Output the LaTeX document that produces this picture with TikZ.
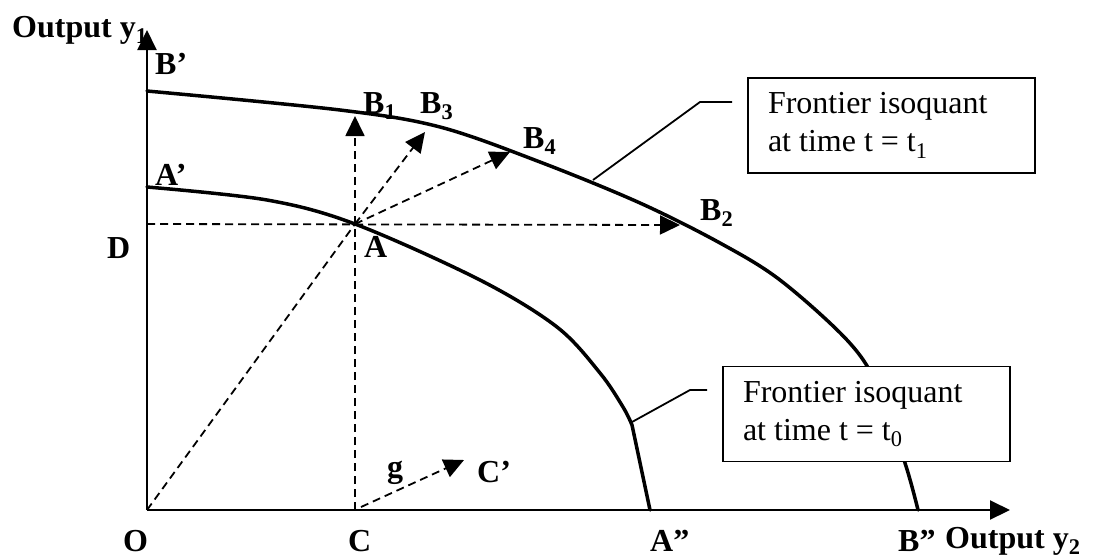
\documentclass[tikz,border=0pt]{standalone}
\usepackage{fontspec}
\setmainfont{Liberation Serif}
\usetikzlibrary{arrows.meta,calc}

\begin{document}
\begin{tikzpicture}[x=1pt,y=-1pt,
  axis/.style={line width=2pt,-{Triangle[length=20pt,width=19pt]}},
  frontier/.style={line width=3.5pt,line join=round,line cap=round},
  guide/.style={line width=1.8pt,dash pattern=on 8pt off 5pt},
  guidearrow/.style={guide,-{Triangle[length=20pt,width=19pt]}},
  leader/.style={line width=1.8pt},
  lbl/.style={font=\fontsize{32}{38}\selectfont\bfseries,inner sep=0pt,anchor=base west},
  isobox/.style={draw,fill=white,line width=1.8pt,font=\fontsize{32}{38}\selectfont,
    inner xsep=20pt,inner ysep=0pt,minimum width=287pt,minimum height=95pt}]
\useasboundingbox (0,0) rectangle (1118,558);
% points of the diagram
\coordinate (O) at (147,510);
\coordinate (ytip) at (147,30);
\coordinate (xtip) at (1010,510);
\coordinate (C) at (355,510);
\coordinate (D) at (147,224);
\coordinate (A) at (355,224);
\coordinate (B1) at (355,116);
\coordinate (B2) at (680,225);
\coordinate (B3) at (425,132);
\coordinate (B4) at (510,152);
\coordinate (Cp) at (464,460);
% frontier isoquants
\draw[frontier] plot[smooth,tension=0.55] coordinates {(147,91) (340,110) (440,127)
  (540,162) (640,203) (720,243) (780,280) (847,340) (877,385) (905,463) (918,510)};
\draw[frontier] plot[smooth,tension=0.55] coordinates {(147,187) (267,200) (355,224)
  (480,280) (557,327) (600,373) (623,407) (632,425)} -- (650,510);
% dashed guides
\draw[guide] (O) -- (A);
\draw[guidearrow] (C) -- (B1);
\draw[guidearrow] (D) -- (B2);
\draw[guidearrow] (A) -- (B3);
\draw[guidearrow] (A) -- (B4);
\draw[guidearrow] ($(C)+(6,-3)$) -- (Cp);
% callouts
\node[isobox] (box1) at (891.5,125.5) {\parbox{247pt}{Frontier isoquant\\at time t = t\textsubscript{1}}};
\node[isobox] (box0) at (866.5,414) {\parbox{247pt}{Frontier isoquant\\at time t = t\textsubscript{0}}};
\coordinate (lead1a) at (593,180);
\coordinate (lead1b) at (700,102);
\coordinate (lead1c) at (732,102);
\coordinate (lead0a) at (632,422);
\coordinate (lead0b) at (690,390);
\coordinate (lead0c) at (707,390);
\draw[leader] (lead1a) -- (lead1b) -- (lead1c);
\draw[leader] (lead0a) -- (lead0b) -- (lead0c);
% axes
\draw[axis] (O) -- (ytip);
\draw[axis] (O) -- (xtip);
% labels
\node[lbl] (ylab) at (12,37) {Output y\textsubscript{1}};
\node[lbl] (xlab) at (945,548) {Output y\textsubscript{2}};
\node[lbl] (lBp) at (155,74) {B’};
\node[lbl] (lAp) at (155,185) {A’};
\node[lbl] (lD) at (107,258) {D};
\node[lbl] (lA) at (364,257) {A};
\node[lbl] (lB1) at (363,113) {B\textsubscript{1}};
\node[lbl] (lB3) at (420,113) {B\textsubscript{3}};
\node[lbl] (lB4) at (523,148) {B\textsubscript{4}};
\node[lbl] (lB2) at (700,220) {B\textsubscript{2}};
\node[lbl] (lg) at (387,477) {g};
\node[lbl] (lCp) at (477,482) {C’};
\node[lbl] (lO) at (123,551) {O};
\node[lbl] (lC) at (348,551) {C};
\node[lbl] (lApp) at (650,551) {A”};
\node[lbl] (lBpp) at (898,551) {B”};
\end{tikzpicture}
\end{document}
